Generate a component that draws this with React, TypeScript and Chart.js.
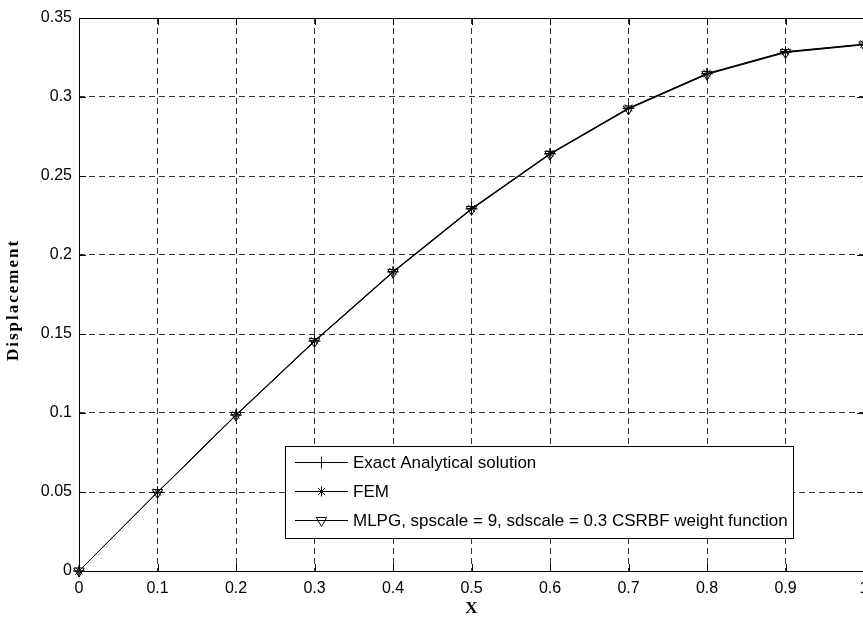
import React, { useEffect, useRef } from 'react';
import { Chart, registerables } from 'chart.js';

Chart.register(...registerables);

const xValues = [0, 0.1, 0.2, 0.3, 0.4, 0.5, 0.6, 0.7, 0.8, 0.9, 1.0];
const exactValues = [0, 0.0498, 0.0987, 0.1455, 0.1893, 0.2292, 0.264, 0.2928, 0.3147, 0.3285, 0.3333];
const femValues = [0, 0.0499, 0.0988, 0.1457, 0.1895, 0.2294, 0.2642, 0.293, 0.3149, 0.3287, 0.3335];
const mlpgValues = [0, 0.0497, 0.0985, 0.1452, 0.189, 0.2288, 0.2637, 0.2924, 0.3143, 0.3281, 0.333];
const xTicks = [0, 0.1, 0.2, 0.3, 0.4, 0.5, 0.6, 0.7, 0.8, 0.9, 1];
const xTickLabels = ['0', '0.1', '0.2', '0.3', '0.4', '0.5', '0.6', '0.7', '0.8', '0.9', '1'];
const yTicks = [0, 0.05, 0.1, 0.15, 0.2, 0.25, 0.3, 0.35];
const yTickLabels = ['0', '0.05', '0.1', '0.15', '0.2', '0.25', '0.3', '0.35'];
const seriesLabels = [
  'Exact Analytical solution',
  'FEM',
  'MLPG, spscale = 9, sdscale = 0.3 CSRBF weight function',
];
const xTitle = 'X';
const yTitle = 'Displacement';

const W = 880;
const H = 624;
const SANS = '"Liberation Sans", Arial, sans-serif';
const SERIF = '"Liberation Serif", "Times New Roman", serif';

function drawMarker(ctx: CanvasRenderingContext2D, style: string, x: number, y: number, r: number) {
  ctx.beginPath();
  if (style === 'cross') {
    ctx.moveTo(x - r, y); ctx.lineTo(x + r, y);
    ctx.moveTo(x, y - r); ctx.lineTo(x, y + r);
  } else if (style === 'star') {
    ctx.moveTo(x - r, y); ctx.lineTo(x + r, y);
    ctx.moveTo(x, y - r); ctx.lineTo(x, y + r);
    const d = r * Math.SQRT1_2;
    ctx.moveTo(x - d, y - d); ctx.lineTo(x + d, y + d);
    ctx.moveTo(x - d, y + d); ctx.lineTo(x + d, y - d);
  } else {
    const s = Math.sin(Math.PI / 3) * r;
    ctx.moveTo(x, y + r);
    ctx.lineTo(x - s, y - r / 2);
    ctx.lineTo(x + s, y - r / 2);
    ctx.closePath();
  }
  ctx.stroke();
}

const decorPlugin = {
  id: 'decor',
  afterDatasetsDraw(chart: any) {
    const { ctx, chartArea, scales } = chart;
    const { left, right, top, bottom } = chartArea;
    ctx.save();
    ctx.strokeStyle = '#000';
    ctx.lineWidth = 1;
    ctx.setLineDash([]);
    ctx.strokeRect(Math.round(left) + 0.5, Math.round(top) + 0.5, Math.round(right - left), Math.round(bottom - top));
    const tl = 7;
    ctx.beginPath();
    xTicks.forEach((v) => {
      const px = Math.round(scales.x.getPixelForValue(v)) + 0.5;
      ctx.moveTo(px, bottom); ctx.lineTo(px, bottom - tl);
      ctx.moveTo(px, top); ctx.lineTo(px, top + tl);
    });
    yTicks.forEach((v) => {
      const py = Math.round(scales.y.getPixelForValue(v)) + 0.5;
      ctx.moveTo(left, py); ctx.lineTo(left + tl, py);
      ctx.moveTo(right, py); ctx.lineTo(right - tl, py);
    });
    ctx.stroke();

    ctx.fillStyle = '#000';
    ctx.font = `bold 17px ${SERIF}`;
    ctx.textAlign = 'center';
    ctx.textBaseline = 'middle';
    ctx.fillText(xTitle, scales.x.getPixelForValue(0.5), 609);
    ctx.save();
    (ctx as any).letterSpacing = '2px';
    ctx.translate(14, 300);
    ctx.rotate(-Math.PI / 2);
    ctx.fillText(yTitle, 0, 0);
    ctx.restore();

    ctx.font = `17px ${SANS}`;
    const textX = 353;
    const maxW = Math.max(...seriesLabels.map((s) => ctx.measureText(s).width));
    const bx = 285, by = 446, bb = 538;
    const br = Math.round(textX + maxW + 5);
    ctx.fillStyle = '#fff';
    ctx.fillRect(bx, by, br - bx, bb - by);
    ctx.strokeRect(bx + 0.5, by + 0.5, br - bx, bb - by);
    const rows = [462, 491, 520];
    const styles = ['cross', 'star', 'triangle'];
    const radii = [6, 5, 6];
    ctx.textAlign = 'left';
    ctx.textBaseline = 'middle';
    rows.forEach((ry, i) => {
      ctx.beginPath();
      ctx.moveTo(295, ry + 0.5); ctx.lineTo(348, ry + 0.5);
      ctx.stroke();
      drawMarker(ctx, styles[i], 321.5, ry + 0.5, radii[i]);
      ctx.fillStyle = '#000';
      ctx.fillText(seriesLabels[i], textX, ry + 1);
    });
    ctx.restore();
  },
};

export default function App() {
  const ref = useRef<HTMLCanvasElement | null>(null);
  useEffect(() => {
    if (!ref.current) return;
    const mk = (label: string, values: number[], style: string, radius: number, rotation: number) => ({
      label,
      data: values.map((v, i) => ({ x: xValues[i], y: v })),
      borderColor: '#000',
      borderWidth: 1,
      pointStyle: style,
      pointRadius: radius,
      pointRotation: rotation,
      pointBorderColor: '#000',
      pointBackgroundColor: 'rgba(0,0,0,0)',
      pointBorderWidth: 1,
      tension: 0,
      fill: false,
      clip: false,
    });
    const chart = new Chart(ref.current, {
      type: 'line',
      data: {
        datasets: [
          mk(seriesLabels[0], exactValues, 'cross', 6, 0),
          mk(seriesLabels[1], femValues, 'star', 5, 0),
          mk(seriesLabels[2], mlpgValues, 'triangle', 6, 180),
        ] as any,
      },
      options: {
        animation: false,
        responsive: false,
        devicePixelRatio: 1,
        layout: { autoPadding: false, padding: { top: 18, right: W - 864, left: 0, bottom: 0 } },
        plugins: { legend: { display: false }, tooltip: { enabled: false } },
        scales: {
          x: {
            type: 'linear',
            min: 0,
            max: 1,
            afterBuildTicks: (s: any) => { s.ticks = xTicks.map((v) => ({ value: v })); },
            afterFit: (s: any) => { s.height = 53; },
            ticks: {
              color: '#000',
              font: { family: SANS, size: 16 },
              padding: 8,
              maxRotation: 0,
              autoSkip: false,
              callback: (v: any) => { const i = xTicks.findIndex((t) => Math.abs(t - v) < 1e-9); return i >= 0 ? xTickLabels[i] : ''; },
            },
            grid: { color: '#333', lineWidth: 1, drawTicks: false },
            border: { display: false, dash: [6, 4] },
          },
          y: {
            type: 'linear',
            min: 0,
            max: 0.35,
            afterBuildTicks: (s: any) => { s.ticks = yTicks.map((v) => ({ value: v })); },
            afterFit: (s: any) => { s.width = 79; },
            ticks: {
              color: '#000',
              font: { family: SANS, size: 16 },
              padding: 7,
              autoSkip: false,
              callback: (v: any) => { const i = yTicks.findIndex((t) => Math.abs(t - v) < 1e-9); return i >= 0 ? yTickLabels[i] : ''; },
            },
            grid: { color: '#333', lineWidth: 1, drawTicks: false },
            border: { display: false, dash: [6, 4] },
          },
        },
      } as any,
      plugins: [decorPlugin],
    });
    return () => chart.destroy();
  }, []);
  return (
    <div style={{ position: 'fixed', left: 0, top: 0, width: W, height: H, background: '#fff', overflow: 'hidden' }}>
      <canvas ref={ref} width={W} height={H} style={{ width: W, height: H, display: 'block' }} />
    </div>
  );
}
